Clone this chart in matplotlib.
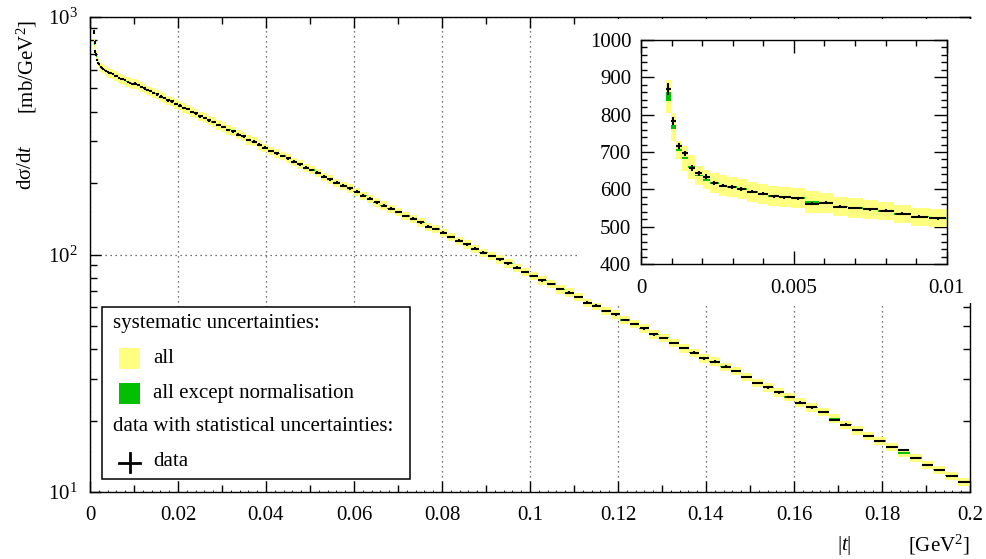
import numpy as np
import matplotlib.pyplot as plt
from matplotlib.patches import Rectangle
from matplotlib.ticker import MultipleLocator, LogLocator, NullFormatter, FuncFormatter
from matplotlib.transforms import blended_transform_factory

plt.rcParams['font.family'] = ['Liberation Serif', 'DejaVu Serif']
plt.rcParams['mathtext.fontset'] = 'custom'
plt.rcParams['mathtext.rm'] = 'Liberation Serif'
plt.rcParams['mathtext.it'] = 'Liberation Serif:italic'
plt.rcParams['mathtext.bf'] = 'Liberation Serif:bold'
FS = 15

# low |t| bins [GeV^2] and dsigma/dt [mb/GeV^2]
t_low = [0.00089, 0.00106, 0.00124, 0.00144, 0.00166, 0.00189, 0.00214, 0.00240,
         0.00268, 0.00297, 0.00328, 0.00364, 0.00399, 0.00434, 0.00469, 0.00512,
         0.00560, 0.00605, 0.00651, 0.00700, 0.00750, 0.00802, 0.00855, 0.00911, 0.00970]
dsdt_low = [868, 784, 716, 696, 657, 643, 634, 617, 610, 606, 601, 593, 588, 582, 579,
            576, 562, 564, 554, 550, 546, 542, 534, 527, 522]
stat_low = [16, 11, 8, 8, 7, 6, 6, 5, 5, 5, 5, 4, 4, 4, 4, 4, 4, 4, 4, 4, 4, 4, 4, 4, 4]
# centre of the systematic bands where it differs from the data point
band_mid_low = [848, 768, 705, 683, 660, 637, 626, 616, 610, 606, 601, 593, 588, 582, 579,
                576, 566, 564, 554, 550, 546, 542, 534, 527, 522]
sys_all_low = [0.052, 0.049, 0.035, 0.048, 0.048, 0.040, 0.041, 0.044, 0.045, 0.045,
               0.045, 0.045, 0.046, 0.046, 0.046, 0.046, 0.050, 0.048, 0.047, 0.047,
               0.047, 0.046, 0.046, 0.046, 0.046]
sys_nonorm_low = [0.014, 0.007, 0.004, 0.004, 0.004, 0.004, 0.004, 0.004, 0.004, 0.004,
                  0.004, 0.004, 0.004, 0.004, 0.004, 0.004, 0.004, 0.004, 0.004, 0.004,
                  0.004, 0.004, 0.004, 0.004, 0.004]

t_mid = [0.0103, 0.0110, 0.0117, 0.0124, 0.0131, 0.0138, 0.0145, 0.0153, 0.0161, 0.0169,
         0.0177, 0.0186, 0.0195, 0.0204, 0.0213, 0.0222, 0.0231, 0.0241, 0.0251, 0.0261,
         0.0271, 0.0281, 0.0292, 0.0303, 0.0314, 0.0325, 0.0337, 0.0349, 0.0361, 0.0373,
         0.0385]
dsdt_mid = [524, 517, 507, 501, 492, 487, 478, 472, 462, 456, 446, 441, 431, 424, 414,
            409, 399, 393, 382, 376, 367, 361, 351, 345, 335, 330, 320, 314, 304, 299, 290]

t_high = [0.0398, 0.0411, 0.0424, 0.0438, 0.0451, 0.0464, 0.0477, 0.0490, 0.0504, 0.0517,
          0.0532, 0.0545, 0.0561, 0.0576, 0.0591, 0.0606, 0.0621, 0.0636, 0.0652, 0.0668,
          0.0684, 0.0701, 0.0718, 0.0735, 0.0752, 0.0769, 0.0786, 0.0803, 0.0820, 0.0839,
          0.0857, 0.0876, 0.0894, 0.0913, 0.0932, 0.0951, 0.0970, 0.0989, 0.1008, 0.1028,
          0.1048, 0.1068, 0.1089, 0.1110, 0.1130, 0.1151, 0.1173, 0.1195, 0.1216, 0.1237,
          0.1260, 0.1281, 0.1304, 0.1326, 0.1351, 0.1373, 0.1395, 0.1420, 0.1445, 0.1468,
          0.1492, 0.1517, 0.1542, 0.1566, 0.1590, 0.1614, 0.1640, 0.1667, 0.1692, 0.1718,
          0.1744, 0.1770, 0.1794, 0.1822, 0.1850, 0.1876, 0.1904, 0.1930, 0.1958, 0.1987]
dsdt_high = [281.7, 272.8, 266.8, 259.8, 254.1, 245.9, 239.8, 232.0, 226.9, 221.0,
             212.6, 207.3, 200.6, 194.9, 190.0, 183.9, 176.9, 171.8, 165.9, 160.6,
             155.9, 151.0, 145.2, 141.5, 136.6, 131.0, 128.1, 123.5, 118.5, 114.3,
             110.4, 105.8, 101.8, 98.6, 95.4, 91.8, 88.0, 84.6, 81.2, 77.9,
             75.1, 71.4, 69.1, 66.4, 62.7, 60.9, 57.8, 56.0, 53.0, 51.1,
             48.9, 46.1, 44.6, 42.5, 40.3, 38.6, 36.5, 35.4, 33.7, 32.3,
             30.5, 28.8, 27.6, 26.3, 25.1, 23.8, 22.7, 21.7, 20.1, 19.2,
             18.2, 17.2, 16.4, 15.5, 15.0, 13.9, 13.0, 12.4, 11.7, 11.0]

sys_all_mid = 0.046
sys_all_high = 0.041
sys_nonorm_main = 0.006
stat_rel_main = 0.012
band_mid_high = {0.1692: 20.4, 0.1850: 14.6}

YELLOW = '#ffff80'
GREEN = '#00c000'

# assemble all bins
t = np.array(t_low + t_mid + t_high)
val = np.array(dsdt_low + dsdt_mid + dsdt_high, dtype=float)
n_low, n_mid, n_high = len(t_low), len(t_mid), len(t_high)
stat = np.concatenate([stat_low,
                       np.array(dsdt_mid) * stat_rel_main,
                       np.array(dsdt_high) * stat_rel_main])
mid = np.concatenate([band_mid_low, dsdt_mid,
                      [band_mid_high.get(x, v) for x, v in zip(t_high, dsdt_high)]])
f_all = np.concatenate([sys_all_low, [sys_all_mid] * n_mid, [sys_all_high] * n_high])
f_nn = np.concatenate([sys_nonorm_low, [sys_nonorm_main] * (n_mid + n_high)])

inner = 0.5 * (t[1:] + t[:-1])
edges = np.concatenate([[t[0] - (t[1] - t[0]) / 2], inner, [t[-1] + (t[-1] - t[-2]) / 2]])
lo, hi = edges[:-1], edges[1:]


def draw_data(ax):
    ax.bar(lo, 2 * f_all * mid, bottom=mid * (1 - f_all), width=hi - lo, align='edge',
           color=YELLOW, linewidth=0, zorder=2)
    ax.bar(lo, 2 * f_nn * mid, bottom=mid * (1 - f_nn), width=hi - lo, align='edge',
           color=GREEN, linewidth=0, zorder=3)
    ax.errorbar(t, val, xerr=[(t - lo) * 0.95, (hi - t) * 0.95], yerr=stat, fmt='none',
                ecolor='k', elinewidth=1.5, capsize=0, zorder=4)


fig = plt.figure(figsize=(9.87, 5.59), dpi=100)
ax = fig.add_axes([90 / 987, 67 / 559, 880 / 987, 475 / 559])
draw_data(ax)
ax.set_yscale('log')
ax.set_xlim(0, 0.2)
ax.set_ylim(10, 1000)

ax.xaxis.set_major_locator(MultipleLocator(0.02))
ax.xaxis.set_minor_locator(MultipleLocator(0.01))
ax.xaxis.set_major_formatter(FuncFormatter(lambda v, p: f'{v:g}'))
ax.yaxis.set_major_locator(LogLocator(base=10))
ax.yaxis.set_minor_locator(LogLocator(base=10, subs=np.arange(2, 10)))
ax.yaxis.set_minor_formatter(NullFormatter())
ax.tick_params(which='both', direction='in', top=True, right=True, width=1,
               labelsize=FS)
ax.tick_params(which='major', length=8)
ax.tick_params(which='minor', length=4.7)
ax.tick_params(axis='x', pad=10)
ax.tick_params(axis='y', pad=9)
for s in ax.spines.values():
    s.set_linewidth(1.0)
ax.grid(True, which='major', color='#444444', linestyle=(0, (1, 3)), linewidth=0.9, zorder=1)
ax.set_axisbelow(True)

# fine ticks along the |t| axis
tr = blended_transform_factory(ax.transData, ax.transAxes)
ax.vlines(np.arange(0, 0.2001, 0.002), 0, 2.2 / 475, transform=tr, color='k',
          linewidth=0.6, clip_on=False, zorder=5)

# axis titles
ax.text(-0.0716, 0.994, '[mb/GeV$^{2}$]', transform=ax.transAxes,
        rotation=90, ha='center', va='top', fontsize=FS)
ax.text(-0.0716, 0.684, 'd\u03c3/d$t$', transform=ax.transAxes,
        rotation=90, ha='center', va='center', fontsize=FS)
ax.text(1.0, -0.112, '[GeV$^{2}$]', transform=ax.transAxes,
        ha='right', va='center', fontsize=FS)
ax.text(0.857, -0.112, '|$t$|', transform=ax.transAxes,
        ha='center', va='center', fontsize=FS)

# legend
ax.add_patch(Rectangle((0.014, 0.0267), 0.3496, 0.3621, transform=ax.transAxes,
                       facecolor='white', edgecolor='k', linewidth=1.1, zorder=6))
ax.text(0.0258, 0.3552, 'systematic uncertainties:', transform=ax.transAxes,
        ha='left', va='center', fontsize=FS, zorder=7)
ax.add_patch(Rectangle((0.0333, 0.2583), 0.0235, 0.0442, transform=ax.transAxes,
                       facecolor=YELLOW, edgecolor='none', zorder=7))
ax.text(0.0719, 0.2821, 'all', transform=ax.transAxes, ha='left', va='center',
        fontsize=FS, zorder=7)
ax.add_patch(Rectangle((0.0333, 0.1853), 0.0235, 0.0448, transform=ax.transAxes,
                       facecolor=GREEN, edgecolor='none', zorder=7))
ax.text(0.0719, 0.2084, 'all except normalisation', transform=ax.transAxes,
        ha='left', va='center', fontsize=FS, zorder=7)
ax.text(0.0258, 0.1389, 'data with statistical uncertainties:', transform=ax.transAxes,
        ha='left', va='center', fontsize=FS, zorder=7)
ax.plot([0.0333, 0.0568], [0.0621, 0.0621], transform=ax.transAxes, color='k', lw=2, zorder=7)
ax.plot([0.0450, 0.0450], [0.0421, 0.0821], transform=ax.transAxes, color='k', lw=2, zorder=7)
ax.text(0.0719, 0.0632, 'data', transform=ax.transAxes, ha='left', va='center',
        fontsize=FS, zorder=7)

# white pad behind the zoomed view; the narrow strip only hides the grid
fig.patches.append(Rectangle((592 / 987, 1 - 303 / 559), 383 / 987, 284 / 559,
                             transform=fig.transFigure, facecolor='white',
                             edgecolor='none', zorder=1))
ax.add_patch(Rectangle(((578 - 90) / 880, (492 - 303) / 475), 14 / 880, 284 / 475,
                       transform=ax.transAxes, facecolor='white', edgecolor='none',
                       zorder=1.5))

axi = fig.add_axes([641 / 987, 295 / 559, 305.7 / 987, 224 / 559], zorder=2)
draw_data(axi)
axi.set_xlim(0, 0.01)
axi.set_ylim(400, 1000)
axi.xaxis.set_major_locator(MultipleLocator(0.005))
axi.xaxis.set_minor_locator(MultipleLocator(0.001))
axi.yaxis.set_major_locator(MultipleLocator(100))
axi.yaxis.set_minor_locator(MultipleLocator(20))
axi.xaxis.set_major_formatter(FuncFormatter(lambda v, p: f'{v:g}'))
axi.yaxis.set_major_formatter(FuncFormatter(lambda v, p: f'{v:g}'))
axi.tick_params(which='both', direction='in', top=True, right=True, width=1,
                labelsize=FS)
axi.tick_params(which='major', length=9.5)
axi.tick_params(which='minor', length=4.6)
axi.tick_params(axis='x', pad=11)
axi.tick_params(axis='y', pad=7)
for s in axi.spines.values():
    s.set_linewidth(1.0)

fig.savefig('out.png', dpi=100)
